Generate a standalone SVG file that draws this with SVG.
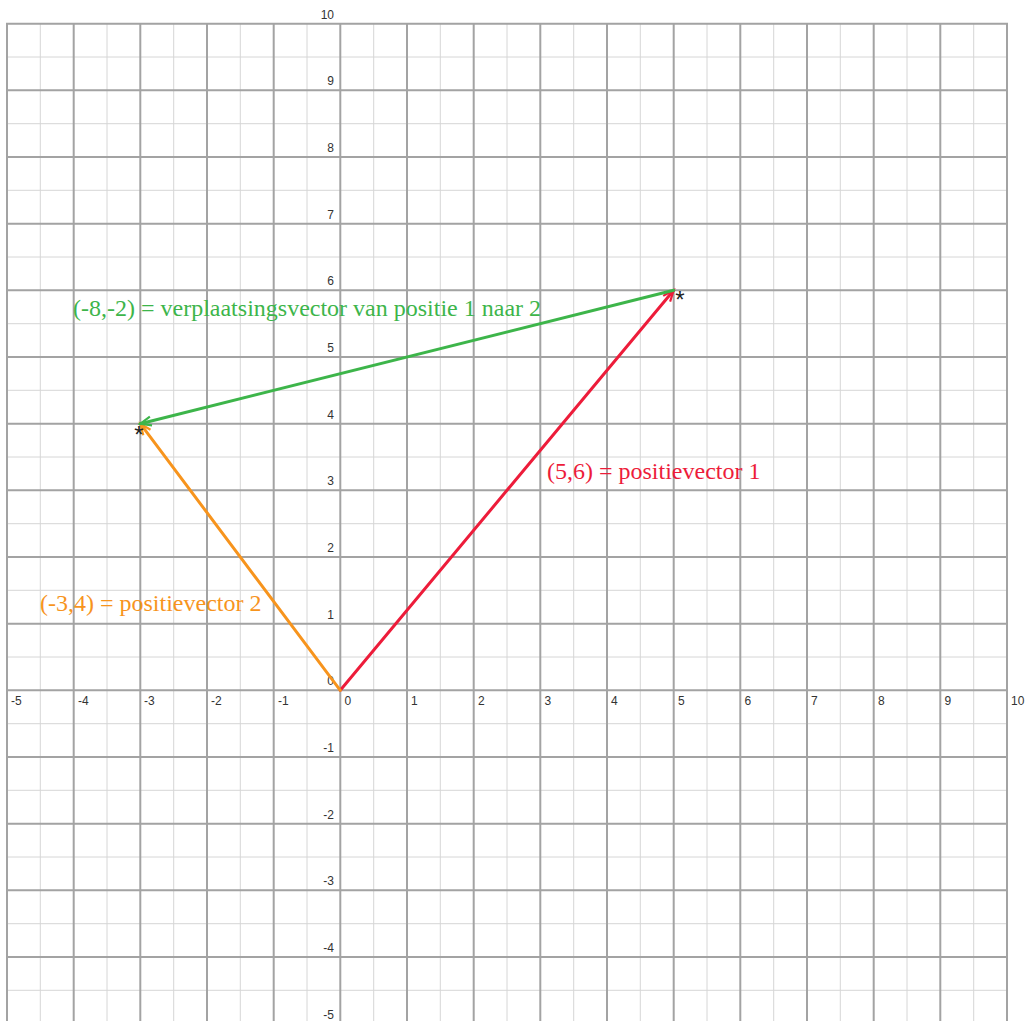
<svg xmlns="http://www.w3.org/2000/svg" width="1029" height="1021" viewBox="0 0 1029 1021">
<style>
.minor{stroke:#d6d6d6;stroke-width:1;fill:none}
.major{stroke:#a3a3a3;stroke-width:2;fill:none}
.ax{font-family:"Liberation Sans",Arial,sans-serif;font-size:12px;fill:#333}
.ay{font-family:"Liberation Sans",Arial,sans-serif;font-size:12px;fill:#333;text-anchor:end}
.lbl{font-family:"Liberation Serif","Times New Roman",serif;font-size:24px}
.star{font-family:"Liberation Sans",Arial,sans-serif;font-size:24px;fill:#222}
.vec{stroke-width:3;fill:none;stroke-linecap:round}
</style>
<defs>
<marker id="ahR" markerUnits="userSpaceOnUse" markerWidth="16" markerHeight="12" refX="12" refY="6" orient="auto"><path d="M1,1.5 L12,6 L1,10.5" fill="none" stroke="#ed1c3a" stroke-width="2.2" stroke-linejoin="miter"/></marker>
<marker id="ahG" markerUnits="userSpaceOnUse" markerWidth="16" markerHeight="12" refX="12" refY="6" orient="auto"><path d="M1,1.5 L12,6 L1,10.5" fill="none" stroke="#3db54a" stroke-width="2.2"/></marker>
<marker id="ahO" markerUnits="userSpaceOnUse" markerWidth="16" markerHeight="12" refX="12" refY="6" orient="auto"><path d="M1,1.5 L12,6 L1,10.5" fill="none" stroke="#f7941d" stroke-width="2.2"/></marker>
</defs>
<rect width="1029" height="1021" fill="#fff"/>
<g id="grid">
<path class="minor" d="M40.3,23.7V1021M107,23.7V1021M173.7,23.7V1021M240.3,23.7V1021M307,23.7V1021M373.7,23.7V1021M440.3,23.7V1021M507,23.7V1021M573.7,23.7V1021M640.3,23.7V1021M707,23.7V1021M773.7,23.7V1021M840.3,23.7V1021M907,23.7V1021M973.7,23.7V1021M7,57H1007M7,123.7H1007M7,190.3H1007M7,257H1007M7,323.7H1007M7,390.3H1007M7,457H1007M7,523.7H1007M7,590.3H1007M7,657H1007M7,723.7H1007M7,790.3H1007M7,857H1007M7,923.7H1007M7,990.3H1007"/>
<path class="major" d="M7,23.7V1021M73.7,23.7V1021M140.3,23.7V1021M207,23.7V1021M273.7,23.7V1021M340.3,23.7V1021M407,23.7V1021M473.7,23.7V1021M540.3,23.7V1021M607,23.7V1021M673.7,23.7V1021M740.3,23.7V1021M807,23.7V1021M873.7,23.7V1021M940.3,23.7V1021M1007,23.7V1021M6,23.7H1008M6,90.3H1008M6,157H1008M6,223.7H1008M6,290.3H1008M6,357H1008M6,423.7H1008M6,490.3H1008M6,557H1008M6,623.7H1008M6,690.3H1008M6,757H1008M6,823.7H1008M6,890.3H1008M6,957H1008"/>
</g>
<g id="x-labels">
<text class="ax" x="11" y="705">-5</text>
<text class="ax" x="78" y="705">-4</text>
<text class="ax" x="144" y="705">-3</text>
<text class="ax" x="211" y="705">-2</text>
<text class="ax" x="278" y="705">-1</text>
<text class="ax" x="344.5" y="705">0</text>
<text class="ax" x="411" y="705">1</text>
<text class="ax" x="478" y="705">2</text>
<text class="ax" x="544.5" y="705">3</text>
<text class="ax" x="611" y="705">4</text>
<text class="ax" x="678" y="705">5</text>
<text class="ax" x="744.5" y="705">6</text>
<text class="ax" x="811" y="705">7</text>
<text class="ax" x="878" y="705">8</text>
<text class="ax" x="944.5" y="705">9</text>
<text class="ax" x="1011" y="705">10</text>
</g>
<g id="y-labels">
<text class="ay" x="334" y="18.5">10</text>
<text class="ay" x="334" y="85.3">9</text>
<text class="ay" x="334" y="152">8</text>
<text class="ay" x="334" y="218.7">7</text>
<text class="ay" x="334" y="285.3">6</text>
<text class="ay" x="334" y="352">5</text>
<text class="ay" x="334" y="418.7">4</text>
<text class="ay" x="334" y="485.3">3</text>
<text class="ay" x="334" y="552">2</text>
<text class="ay" x="334" y="618.7">1</text>
<text class="ay" x="334" y="685.3">0</text>
<text class="ay" x="334" y="752">-1</text>
<text class="ay" x="334" y="818.7">-2</text>
<text class="ay" x="334" y="885.3">-3</text>
<text class="ay" x="334" y="952">-4</text>
<text class="ay" x="334" y="1018.5">-5</text>
</g>
<g id="connectors">
<line id="v1" class="vec" x1="340.3" y1="690.3" x2="673.7" y2="290.3" stroke="#ed1c3a" marker-end="url(#ahR)"/>
<line id="v2" class="vec" x1="340.3" y1="690.3" x2="140.3" y2="423.7" stroke="#f7941d" marker-end="url(#ahO)"/>
<line id="v12" class="vec" x1="673.7" y1="290.3" x2="140.3" y2="423.7" stroke="#3db54a" marker-end="url(#ahG)"/>
</g>
<g id="point1"><text class="star" x="675.3" y="308">*</text></g>
<g id="point2"><text class="star" x="134.3" y="443">*</text></g>
<g id="label-v12"><text class="lbl" x="73" y="315.5" fill="#3db54a">(-8,-2) = verplaatsingsvector van positie 1 naar 2</text></g>
<g id="label-v1"><text class="lbl" x="547" y="479" fill="#ed1c3a">(5,6) = positievector 1</text></g>
<g id="label-v2"><text class="lbl" x="40" y="611" fill="#f7941d">(-3,4) = positievector 2</text></g>
</svg>
